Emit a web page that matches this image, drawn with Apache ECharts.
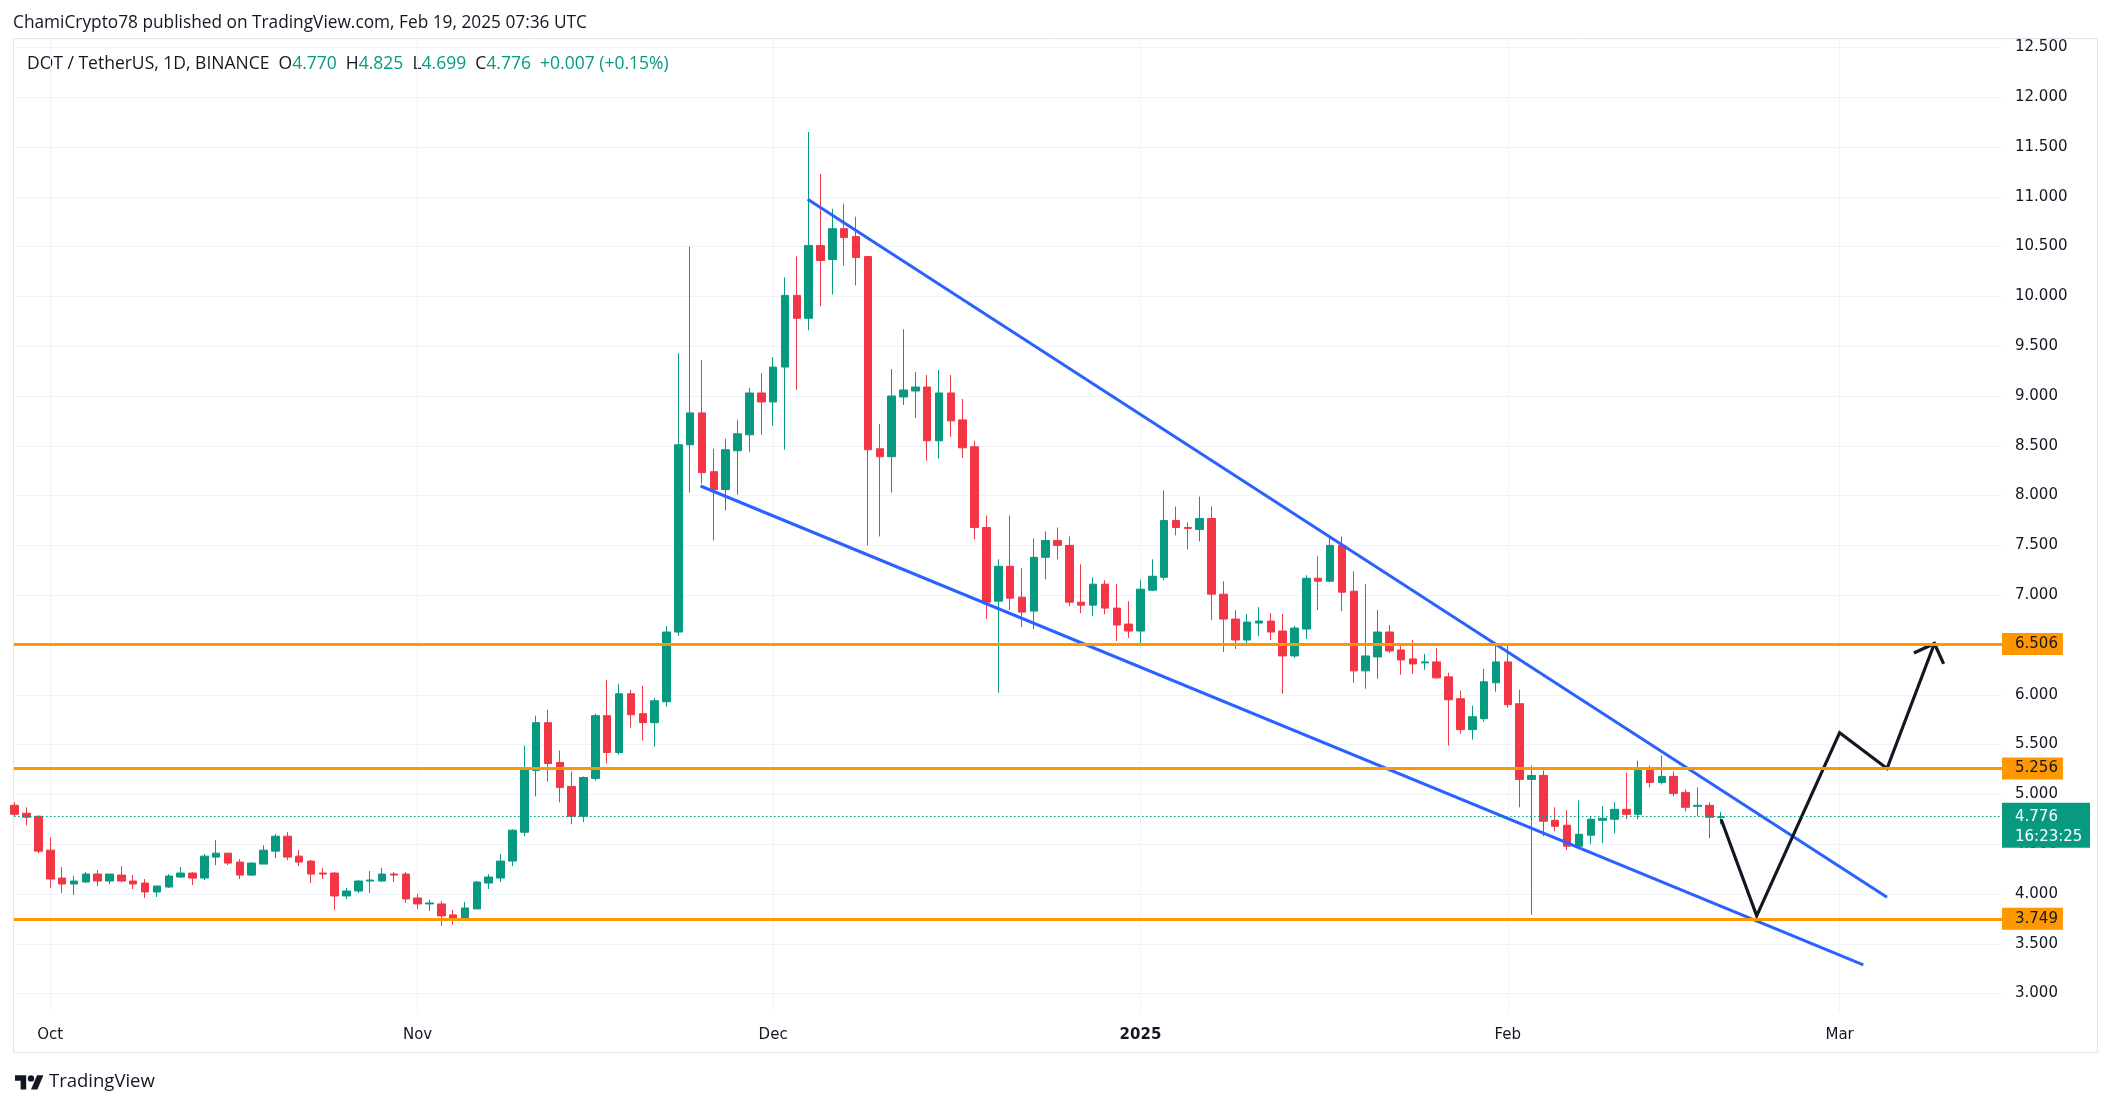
<!DOCTYPE html>
<html><head><meta charset="utf-8">
<script src="https://cdn.jsdelivr.net/npm/echarts@6/dist/echarts.min.js"></script>
<style>html,body{margin:0;padding:0;background:#fff}#c{width:2114px;height:1107px}</style>
</head><body><div id="c"></div>
<script>
const dates = [
'2024-09-28','2024-09-29','2024-09-30',
'2024-10-01','2024-10-02','2024-10-03','2024-10-04','2024-10-05','2024-10-06','2024-10-07','2024-10-08','2024-10-09','2024-10-10',
'2024-10-11','2024-10-12','2024-10-13','2024-10-14','2024-10-15','2024-10-16','2024-10-17','2024-10-18','2024-10-19','2024-10-20',
'2024-10-21','2024-10-22','2024-10-23','2024-10-24','2024-10-25','2024-10-26','2024-10-27','2024-10-28','2024-10-29','2024-10-30','2024-10-31',
'2024-11-01','2024-11-02','2024-11-03','2024-11-04','2024-11-05','2024-11-06','2024-11-07','2024-11-08','2024-11-09','2024-11-10',
'2024-11-11','2024-11-12','2024-11-13','2024-11-14','2024-11-15','2024-11-16','2024-11-17','2024-11-18','2024-11-19','2024-11-20',
'2024-11-21','2024-11-22','2024-11-23','2024-11-24','2024-11-25','2024-11-26','2024-11-27','2024-11-28','2024-11-29','2024-11-30',
'2024-12-01','2024-12-02','2024-12-03','2024-12-04','2024-12-05','2024-12-06','2024-12-07','2024-12-08','2024-12-09','2024-12-10',
'2024-12-11','2024-12-12','2024-12-13','2024-12-14','2024-12-15','2024-12-16','2024-12-17','2024-12-18','2024-12-19','2024-12-20',
'2024-12-21','2024-12-22','2024-12-23','2024-12-24','2024-12-25','2024-12-26','2024-12-27','2024-12-28','2024-12-29','2024-12-30','2024-12-31',
'2025-01-01','2025-01-02','2025-01-03','2025-01-04','2025-01-05','2025-01-06','2025-01-07','2025-01-08','2025-01-09','2025-01-10',
'2025-01-11','2025-01-12','2025-01-13','2025-01-14','2025-01-15','2025-01-16','2025-01-17','2025-01-18','2025-01-19','2025-01-20',
'2025-01-21','2025-01-22','2025-01-23','2025-01-24','2025-01-25','2025-01-26','2025-01-27','2025-01-28','2025-01-29','2025-01-30','2025-01-31',
'2025-02-01','2025-02-02','2025-02-03','2025-02-04','2025-02-05','2025-02-06','2025-02-07','2025-02-08','2025-02-09','2025-02-10',
'2025-02-11','2025-02-12','2025-02-13','2025-02-14','2025-02-15','2025-02-16','2025-02-17','2025-02-18','2025-02-19'
];
const open = [
4.89,4.81,4.78,
4.44,4.16,4.10,4.12,4.20,4.13,4.19,4.13,4.11,4.02,
4.07,4.17,4.21,4.16,4.37,4.41,4.32,4.19,4.30,4.43,
4.58,4.38,4.33,4.21,4.21,3.98,4.03,4.13,4.13,4.20,4.20,
3.96,3.90,3.90,3.79,3.75,3.85,4.11,4.16,4.33,4.62,
5.24,5.72,5.32,5.08,4.78,5.16,5.79,5.42,6.01,5.81,
5.72,5.93,6.63,8.51,8.83,8.24,8.06,8.45,8.61,9.03,
8.94,9.29,10.01,9.78,10.51,10.37,10.68,10.60,10.40,8.47,
8.39,8.99,9.05,9.09,8.55,9.03,8.76,8.49,7.68,6.94,
7.29,6.98,6.84,7.38,7.55,7.50,6.93,6.90,7.11,6.87,6.71,
6.64,7.05,7.18,7.75,7.68,7.66,7.77,7.01,6.76,6.55,
6.72,6.74,6.64,6.39,6.66,7.17,7.14,7.50,7.04,6.24,
6.38,6.63,6.45,6.36,6.32,6.33,6.18,5.96,5.65,5.76,6.12,
6.33,5.91,5.15,5.19,4.74,4.69,4.48,4.59,4.74,4.75,
4.85,4.80,5.24,5.12,5.18,5.02,4.88,4.89,4.770
];
const high = [
4.92,4.87,4.79,
4.57,4.27,4.18,4.22,4.24,4.20,4.28,4.19,4.15,4.08,
4.20,4.27,4.22,4.40,4.54,4.41,4.35,4.32,4.49,4.60,
4.62,4.44,4.34,4.26,4.22,4.06,4.14,4.23,4.26,4.22,4.22,
4.00,3.94,3.93,3.84,3.92,4.13,4.20,4.40,4.65,5.49,
5.79,5.85,5.44,5.23,5.18,5.81,6.15,6.11,6.05,6.09,
5.97,6.69,9.43,10.50,9.36,8.47,8.57,8.76,9.08,9.23,
9.39,10.19,10.40,11.65,11.23,10.88,10.93,10.80,10.40,8.72,
9.27,9.67,9.24,9.21,9.26,9.21,8.97,8.55,7.80,7.36,
7.80,7.27,7.57,7.64,7.68,7.59,7.31,7.18,7.15,7.11,6.94,
7.15,7.36,8.05,7.89,7.73,7.99,7.89,7.14,6.85,6.81,
6.88,6.82,6.81,6.69,7.20,7.39,7.60,7.59,7.24,7.11,
6.85,6.70,6.50,6.55,6.41,6.47,6.22,6.04,5.89,6.26,6.49,
6.49,6.05,5.29,5.24,4.87,4.84,4.94,4.78,4.88,4.92,
5.22,5.34,5.29,5.39,5.23,5.05,5.07,4.92,4.825
];
const low = [
4.78,4.69,4.41,
4.06,4.01,3.99,4.11,4.08,4.10,4.12,4.05,3.96,3.97,
4.06,4.16,4.09,4.14,4.29,4.29,4.15,4.18,4.30,4.36,
4.34,4.28,4.11,4.15,3.84,3.95,4.01,4.01,4.12,4.12,3.91,
3.85,3.83,3.68,3.69,3.75,3.85,4.05,4.12,4.28,4.58,
4.98,5.13,4.92,4.70,4.72,5.14,5.31,5.40,5.67,5.54,
5.48,5.88,6.59,8.03,8.12,7.55,7.85,8.01,8.44,8.61,
8.70,8.46,9.06,9.66,9.90,10.02,10.31,10.11,7.50,7.59,
8.03,8.91,8.78,8.35,8.37,8.59,8.38,7.56,6.76,6.02,
6.85,6.68,6.66,7.16,7.36,6.89,6.82,6.79,6.81,6.54,6.57,
6.52,7.04,7.15,7.60,7.46,7.54,6.75,6.43,6.46,6.49,
6.59,6.55,6.01,6.37,6.56,6.85,7.13,6.84,6.12,6.06,
6.16,6.42,6.20,6.21,6.25,6.16,5.49,5.61,5.55,5.73,6.03,
5.87,4.87,3.79,4.58,4.63,4.44,4.46,4.50,4.51,4.61,
4.75,4.75,5.07,5.10,4.98,4.83,4.78,4.56,4.699
];
const close = [
4.80,4.77,4.43,
4.15,4.10,4.13,4.20,4.13,4.20,4.13,4.10,4.02,4.08,
4.18,4.21,4.16,4.38,4.41,4.31,4.19,4.31,4.44,4.58,
4.37,4.32,4.20,4.20,3.98,4.03,4.13,4.14,4.20,4.19,3.95,
3.90,3.91,3.78,3.75,3.86,4.12,4.17,4.33,4.64,5.25,
5.72,5.31,5.07,4.78,5.17,5.79,5.42,6.01,5.80,5.72,
5.94,6.63,8.51,8.83,8.23,8.06,8.46,8.62,9.03,8.94,
9.29,10.01,9.78,10.51,10.36,10.68,10.59,10.39,8.46,8.39,
9.00,9.06,9.09,8.55,9.03,8.75,8.48,7.68,6.93,7.29,
6.97,6.83,7.38,7.55,7.50,6.93,6.90,7.11,6.87,6.70,6.64,
7.06,7.19,7.75,7.68,7.67,7.77,7.01,6.76,6.55,6.73,
6.74,6.63,6.39,6.67,7.17,7.14,7.50,7.03,6.24,6.39,
6.63,6.44,6.35,6.31,6.33,6.17,5.95,5.65,5.78,6.13,6.33,
5.90,5.15,5.19,4.73,4.68,4.48,4.60,4.75,4.76,4.85,
4.80,5.24,5.12,5.18,5.01,4.87,4.89,4.77,4.776
];
const yTicks = [3.0,3.5,4.0,4.5,5.0,5.5,6.0,6.5,7.0,7.5,8.0,8.5,9.0,9.5,10.0,10.5,11.0,11.5,12.0,12.5];
const monthTicks = ['2024-10-01','2024-11-01','2024-12-01','2025-01-01','2025-02-01','2025-03-01'];
const monthLabels = ['Oct','Nov','Dec','2025','Feb','Mar'];
const xRange = ['2024-09-27 22:35','2025-03-14 16:50'];
const yRange = [2.815, 12.574];
const levels = [6.506, 5.256, 3.749];
const lastPrice = 4.776;
const countdown = '16:23:25';
const upperTrend = [['2024-12-03 22:00', 10.975], ['2025-03-05 00:00', 3.967]];
const lowerTrend = [['2024-11-24 21:00', 8.096], ['2025-03-03 00:00', 3.288]];
const projection = [['2025-02-19 00:00', 4.75], ['2025-02-22 00:00', 3.78], ['2025-03-01 00:00', 5.62], ['2025-03-05 00:00', 5.26], ['2025-03-09 00:00', 6.515]];
const arrowHead = [['2025-03-07 06:30', 6.42], ['2025-03-09 00:00', 6.515], ['2025-03-09 18:40', 6.31]];

function ts(s){
  const parts = s.split(' ');
  const d = parts[0].split('-').map(Number);
  const t = (parts[1] || '00:00').split(':').map(Number);
  return Date.UTC(d[0], d[1]-1, d[2], t[0], t[1]);
}
const candles = dates.map((d,i)=>[ts(d), open[i], close[i], low[i], high[i]]);
const toXY = arr => arr.map(p=>[ts(p[0]), p[1]]);
const monthTs = monthTicks.map(ts);
const xMin = ts(xRange[0]), xMax = ts(xRange[1]);

const AXF = 'DejaVu Sans';
const TXT = '#131722';
const UP = '#089981', DOWN = '#F23645', ORANGE = '#FF9800', BLUE = '#2962FF';
const HF = '17.3px "Open Sans"';
const LF = '17.5px "Open Sans"';

const chart = echarts.init(document.getElementById('c'), null, {renderer:'canvas', width:2114, height:1107});
chart.setOption({
  animation:false,
  backgroundColor:'#ffffff',
  grid:{left:14, right:112, top:40, bottom:95, containLabel:false},
  xAxis:{
    type:'value', min:xMin, max:xMax,
    axisLine:{show:false},
    axisTick:{show:false, customValues: monthTs},
    axisLabel:{
      customValues: monthTs, margin:16,
      color:TXT, fontSize:15, fontFamily:AXF,
      formatter: v => { const i = monthTs.indexOf(v); const l = i>=0 ? monthLabels[i] : ''; return l === '2025' ? '{b|'+l+'}' : l; },
      rich:{b:{fontWeight:'bold', fontSize:15, fontFamily:AXF, color:TXT}}
    },
    splitLine:{show:true, lineStyle:{color:'#f0f3fa', width:1}}
  },
  yAxis:{
    type:'value', position:'right', min:yRange[0], max:yRange[1], scale:true,
    axisLine:{show:false},
    axisTick:{show:false, customValues: yTicks},
    axisLabel:{customValues: yTicks, formatter: v => v.toFixed(3), align:'left', margin:13, color:TXT, fontSize:15, fontFamily:AXF, padding:[3,0,0,0]},
    splitLine:{show:true, lineStyle:{color:'#f0f3fa', width:1}}
  },
  series:[
    {
      type:'candlestick', data:candles, barWidth:8, silent:true,
      itemStyle:{color:UP, color0:DOWN, borderColor:UP, borderColor0:DOWN, borderWidth:1}
    },
    {
      type:'line', data:[], clip:false, silent:true, z:5,
      markLine:{
        symbol:'none', silent:true, animation:false,
        data: levels.map(v=>({
          yAxis:v,
          lineStyle:{color:ORANGE, width:3, type:'solid'},
          label:{show:true, position:'end', distance:0, formatter:v.toFixed(3), backgroundColor:ORANGE, color:TXT,
                 padding:[3,5,1,13], fontSize:15, fontFamily:AXF, lineHeight:18}
        })).concat([{
          yAxis:lastPrice,
          lineStyle:{color:UP, width:1, type:[1.5,2.5]},
          label:{show:false}
        }])
      },
      markPoint:{
        silent:true, animation:false,
        data:[{
          coord:[xMax, lastPrice], symbol:'rect', symbolSize:[88,45], symbolOffset:[44,8.5],
          itemStyle:{color:UP},
          label:{show:true, position:[13,4], align:'left', verticalAlign:'top',
                 formatter: lastPrice.toFixed(3)+'\n'+countdown, color:'#ffffff', lineHeight:20, fontSize:15, fontFamily:AXF}
        }]
      }
    },
    {type:'line', data:toXY(upperTrend), symbol:'none', silent:true, z:4, lineStyle:{color:BLUE, width:3}},
    {type:'line', data:toXY(lowerTrend), symbol:'none', silent:true, z:4, lineStyle:{color:BLUE, width:3}},
    {type:'line', data:toXY(projection), symbol:'none', silent:true, z:4, lineStyle:{color:TXT, width:3.2, join:'miter'}},
    {type:'line', data:toXY(arrowHead), symbol:'none', silent:true, z:4, lineStyle:{color:TXT, width:3.2, join:'miter'}}
  ],
  graphic:[
    {type:'rect', silent:true, z:-1, shape:{x:13.5, y:38.5, width:2084, height:1014}, style:{fill:'none', stroke:'#e0e3eb', lineWidth:1}},
    {type:'text', x:13, y:23.5, silent:true, style:{text:'ChamiCrypto78 published on TradingView.com, Feb 19, 2025 07:36 UTC', fill:TXT, font:HF, verticalAlign:'middle'}},
    {type:'text', x:27, y:64, silent:true, style:{
      text:'{n|DOT / TetherUS, 1D, BINANCE}  {n|O}{g|4.770}  {n|H}{g|4.825}  {n|L}{g|4.699}  {n|C}{g|4.776}  {g|+0.007 (+0.15%)}',
      font:LF, verticalAlign:'middle',
      rich:{n:{fill:TXT, font:LF}, g:{fill:UP, font:LF}}
    }},
    {type:'group', x:15, y:1072, scaleX:0.8, scaleY:0.8, silent:true, children:[
      {type:'polygon', shape:{points:[[14,22],[7,22],[7,11],[0,11],[0,4],[14,4]]}, style:{fill:TXT}},
      {type:'polygon', shape:{points:[[28,22],[20,22],[27.5,4],[35.5,4]]}, style:{fill:TXT}},
      {type:'circle', shape:{cx:20, cy:8, r:4}, style:{fill:TXT}}
    ]},
    {type:'text', x:49, y:1082, silent:true, style:{text:'TradingView', fill:TXT, font:'500 18.5px "Open Sans"', verticalAlign:'middle'}}
  ]
});
</script>
</body></html>
